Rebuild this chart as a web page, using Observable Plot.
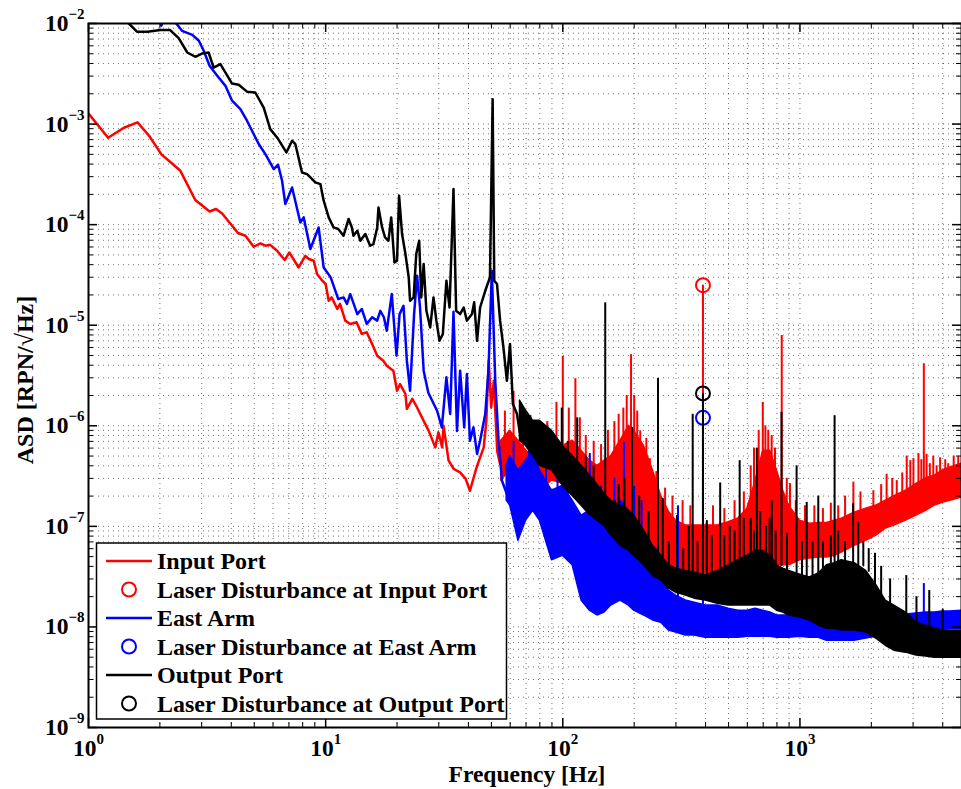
<!DOCTYPE html>
<html>
<head>
<meta charset="utf-8">
<script src="https://cdn.jsdelivr.net/npm/d3@7"></script>
<script src="https://cdn.jsdelivr.net/npm/@observablehq/plot@0.6"></script>
<style>
  body { margin: 0; background: #fff; }
  #chart { width: 961px; height: 789px; }
</style>
</head>
<body>
<div id="chart"></div>
<script>
// ---------- Tick values ----------
const freqTicks = [1, 10, 100, 1000];
const asdTicks = [1e-9, 1e-8, 1e-7, 1e-6, 1e-5, 1e-4, 1e-3, 1e-2];

// ---------- Legend ----------
const seriesNames = ["Input Port", "East Arm", "Output Port"];
const markerNames = ["Laser Disturbance at Input Port", "Laser Disturbance at East Arm", "Laser Disturbance at Output Port"];
const seriesColors = ["#ff0000", "#0000ff", "#000000"];

// ---------- Input Port (red) ----------
const inputLine = [[1.0,1.27e-3],[1.21,7.3e-4],[1.41,9.2e-4],[1.61,1.04e-3],[1.80,7.65e-4],[2.03,5.0e-4],[2.25,4.06e-4],[2.44,3.43e-4],[2.82,1.76e-4],[3.24,1.35e-4],[3.45,1.43e-4],[3.66,1.29e-4],[4.27,8.25e-5],[4.59,7.76e-5],[4.97,6.03e-5],[5.31,6.5e-5],[5.57,6.17e-5],[5.84,6.3e-5],[6.24,5.5e-5],[6.72,4.45e-5],[7.03,5.29e-5],[7.69,3.75e-5],[8.21,4.9e-5],[8.49,4.55e-5],[8.91,4.38e-5],[9.2,3.23e-5],[9.68,2.77e-5],[10.0,2.57e-5],[10.3,1.75e-5],[10.6,1.89e-5],[11.2,1.45e-5],[11.5,1.63e-5],[12.1,1.11e-5],[12.7,1.03e-5],[13.5,1.07e-5],[14.2,8.2e-6],[14.9,8.5e-6],[15.7,6.5e-6],[16.5,4.98e-6],[17.5,4.44e-6],[18.1,3.96e-6],[19.3,3.53e-6],[20.0,2.23e-6],[20.6,2.6e-6],[21.7,2.07e-6],[22.0,1.47e-6],[23.2,1.85e-6],[24.3,1.52e-6],[25.9,1.12e-6],[27.2,8.9e-7],[29.0,6.1e-7],[29.9,8.6e-7],[31.0,6.1e-7],[31.4,1.0e-6],[33.0,4.5e-7],[34.7,3.72e-7],[36.9,3.44e-7],[38.9,2.98e-7],[40.6,2.26e-7],[43.3,3.86e-7],[46.4,6.1e-7],[47.6,1.12e-6],[48.7,4.44e-6],[49.9,1.52e-6],[51.2,2.81e-6],[52.9,5.6e-7],[54.4,4.17e-7]];
const inputBandFreq = [55,60,65,70,75,80,90,100,110,120,130,140,150,160,175,190,200,220,240,260,280,300,330,360,400,450,500,550,600,650,700,750,800,850,900,1000,1100,1200,1300,1400,1500,1700,1900,2100,2300,2500,2800,3100,3400,3700,4000,4300,4800];
const inputBandHi = [7.1e-7,8.9e-7,7.1e-7,5.65e-7,5.0e-7,5.0e-7,5.65e-7,6.3e-7,7.1e-7,5.65e-7,4.5e-7,4.0e-7,4.5e-7,5.0e-7,7.1e-7,1.0e-6,8.9e-7,6.3e-7,3.6e-7,2.0e-7,1.4e-7,1.14e-7,1.02e-7,1.02e-7,1.02e-7,1.02e-7,1.1e-7,1.2e-7,1.5e-7,2.85e-7,5.65e-7,5.65e-7,3.6e-7,2.26e-7,1.6e-7,1.14e-7,1.06e-7,1.08e-7,1.08e-7,1.14e-7,1.19e-7,1.37e-7,1.5e-7,1.61e-7,1.8e-7,2.0e-7,2.26e-7,2.65e-7,3.0e-7,3.2e-7,3.6e-7,3.85e-7,4.2e-7];
const inputBandLo = [2.85e-7,3.6e-7,2.85e-7,2.85e-7,2.26e-7,2.26e-7,2.85e-7,2.65e-7,3.0e-7,2.26e-7,1.43e-7,1.28e-7,1.14e-7,1.14e-7,1.14e-7,1.28e-7,1.14e-7,7.2e-8,4.6e-8,4.1e-8,3.2e-8,3.0e-8,2.9e-8,2.9e-8,2.9e-8,2.75e-8,2.7e-8,2.7e-8,2.9e-8,3.2e-8,3.6e-8,4.1e-8,4.1e-8,4.1e-8,4.1e-8,4.6e-8,4.8e-8,4.9e-8,4.9e-8,5.1e-8,5.5e-8,6.4e-8,7.2e-8,8.1e-8,9.5e-8,1.02e-7,1.14e-7,1.28e-7,1.43e-7,1.61e-7,1.72e-7,1.8e-7,1.93e-7];
const inputSpikes = [[57,5e-7,1.4e-6],[62,6e-7,2.2e-6],[68,5e-7,1.3e-6],[73,4e-7,1.1e-6],[78,4e-7,9e-7],[86,4e-7,1.1e-6],[94,4e-7,1.71e-6],[100,5e-7,4.9e-6],[106,5e-7,1.5e-6],[113,5e-7,2.94e-6],[118,4e-7,1.2e-6],[125,4e-7,8e-7],[135,3e-7,7e-7],[145,3e-7,6.5e-7],[155,3e-7,9e-7],[165,4e-7,1.1e-6],[172,5e-7,1.3e-6],[180,5e-7,1.5e-6],[186,6e-7,2.0e-6],[194,6e-7,5.1e-6],[200,6e-7,2.0e-6],[206,5e-7,1.4e-6],[212,4e-7,8.9e-7],[225,3e-7,7.5e-7],[233,2e-7,4.7e-7],[248,2e-7,3.5e-7],[270,1.2e-7,2.4e-7],[290,1e-7,2.0e-7],[320,8e-8,1.8e-7],[345,8e-8,1.6e-7],[390,8e-8,2.5e-5],[430,8e-8,1.6e-7],[480,8e-8,1.5e-7],[530,9e-8,1.8e-7],[580,1e-7,2.2e-7],[620,1.5e-7,4.0e-7],[640,2e-7,6.0e-7],[670,3e-7,9e-7],[697,4e-7,1.71e-6],[715,4e-7,1.0e-6],[735,4e-7,9e-7],[760,3e-7,8e-7],[785,2e-7,6e-7],[838,1.5e-7,7.9e-6],[880,1.2e-7,3.0e-7],[908,1.2e-7,2.66e-7],[960,1e-7,1.8e-7],[1050,9e-8,1.6e-7],[1150,9e-8,1.6e-7],[1250,9e-8,1.5e-7],[1350,9e-8,1.7e-7],[1450,1e-7,1.6e-7],[1550,1e-7,2.0e-7],[1680,1.1e-7,2.75e-7],[1800,1.2e-7,2.2e-7],[2040,1.3e-7,2.26e-7],[2200,1.4e-7,2.6e-7],[2320,1.5e-7,3.3e-7],[2450,1.6e-7,3.0e-7],[2560,1.7e-7,2.85e-7],[2700,1.8e-7,3.4e-7],[2820,1.9e-7,5.0e-7],[2920,2e-7,4.5e-7],[3010,2.1e-7,4.7e-7],[3160,2.2e-7,5.3e-7],[3250,2.3e-7,4.6e-7],[3330,2.4e-7,4.14e-6],[3420,2.5e-7,5.2e-7],[3530,2.6e-7,4.2e-7],[3650,2.7e-7,5.0e-7],[3770,2.8e-7,4.0e-7],[3900,2.9e-7,4.8e-7],[4100,3e-7,4.6e-7],[4220,3.1e-7,4.2e-7],[4450,3.2e-7,5.0e-7],[4650,3.4e-7,4.9e-7]];
const inputMarker = [390, 2.5e-5];

// ---------- East Arm (blue) ----------
const eastLine = [[1.0,4e-2],[1.97,1.34e-2],[2.03,9.5e-3],[2.11,1.34e-2],[2.26,1.19e-2],[2.33,1.02e-2],[2.48,8.46e-3],[2.74,7.72e-3],[2.92,6.73e-3],[3.06,5.35e-3],[3.24,3.8e-3],[3.49,3.02e-3],[3.78,2.4e-3],[4.03,1.71e-3],[4.37,1.41e-3],[4.66,1.08e-3],[4.97,7.96e-4],[5.22,6.33e-4],[5.57,5.03e-4],[6.04,3.57e-4],[6.30,3.94e-4],[6.55,2.73e-4],[6.76,1.6e-4],[7.22,2.34e-4],[7.82,1.05e-4],[8.08,1.18e-4],[8.62,5.72e-5],[9.34,9.38e-5],[9.81,3.75e-5],[10.5,2.99e-5],[11.3,1.82e-5],[11.9,1.89e-5],[12.3,1.63e-5],[12.7,2.04e-5],[13.6,1.29e-5],[14.2,1.45e-5],[14.9,1.03e-5],[15.7,1.2e-5],[16.5,1.11e-5],[17.0,1.39e-5],[17.6,1.2e-5],[18.1,8.82e-6],[19.0,2.04e-5],[19.9,4.98e-6],[20.5,1.29e-5],[21.3,1.56e-5],[22.0,4.44e-6],[22.7,2.23e-6],[23.6,1.29e-5],[24.3,3.1e-5],[25.0,1.5e-5],[25.9,3.53e-6],[27.1,2.13e-6],[29.5,1.41e-6],[30.9,9.64e-7],[32.3,3.03e-6],[33.5,1.31e-6],[34.6,1.36e-5],[35.8,8.9e-7],[36.9,3.53e-6],[38.4,9.64e-7],[39.4,3.27e-6],[40.6,7.1e-7],[42.0,9.64e-7],[43.5,5.25e-7],[44.8,7.1e-7],[47.1,1.31e-6],[48.6,3.53e-6],[50.2,3.48e-5],[51.9,2.8e-6],[53.6,7.1e-7],[55.4,2.84e-7],[58.1,2.1e-7]];
const eastBandFreq = [58,60,65,70,75,80,90,100,110,120,130,140,150,160,175,190,200,220,240,260,280,300,330,360,400,450,500,550,600,650,700,750,800,850,900,1000,1100,1200,1300,1400,1500,1700,1900,2100,2300,2500,2800,3100,3400,3700,4000,4300,4800];
const eastBandHi = [4.0e-7,5.0e-7,3.6e-7,4.5e-7,5.65e-7,3.6e-7,2.26e-7,2.54e-7,1.8e-7,1.28e-7,1.43e-7,1.14e-7,1.14e-7,1.28e-7,1.8e-7,1.43e-7,1.14e-7,7.2e-8,3.6e-8,2.9e-8,2.3e-8,2.05e-8,1.83e-8,1.74e-8,1.63e-8,1.63e-8,1.52e-8,1.45e-8,1.45e-8,1.52e-8,1.45e-8,1.39e-8,1.3e-8,1.3e-8,1.3e-8,1.36e-8,1.3e-8,1.63e-8,1.3e-8,1.21e-8,1.21e-8,1.21e-8,1.21e-8,1.21e-8,1.27e-8,1.3e-8,1.33e-8,1.36e-8,1.39e-8,1.39e-8,1.42e-8,1.42e-8,1.45e-8];
const eastBandLo = [1.8e-7,1.61e-7,7.2e-8,1.14e-7,1.43e-7,1.14e-7,4.6e-8,5.1e-8,4.1e-8,1.83e-8,1.45e-8,1.3e-8,1.39e-8,1.63e-8,1.83e-8,1.63e-8,1.45e-8,1.3e-8,1.16e-8,1.1e-8,9.2e-9,8.8e-9,8.2e-9,8.2e-9,7.8e-9,7.8e-9,7.8e-9,7.8e-9,8.0e-9,8.0e-9,8.0e-9,8.0e-9,7.8e-9,7.8e-9,7.8e-9,8.0e-9,7.8e-9,7.8e-9,7.3e-9,7.3e-9,7.3e-9,7.3e-9,7.65e-9,8.0e-9,8.6e-9,8.8e-9,9.0e-9,9.2e-9,9.2e-9,9.4e-9,9.4e-9,9.6e-9,9.6e-9];
const eastSpikes = [[62,2e-7,7e-7],[72,2e-7,7e-7],[85,1e-7,5e-7],[95,1e-7,4e-7],[105,8e-8,3.5e-7],[130,5e-8,5.3e-7],[145,5e-8,2.5e-7],[165,5e-8,3e-7],[181,6e-8,6.8e-7],[200,5e-8,2.5e-7],[215,3e-8,1.8e-7],[250,2e-8,6e-8],[306,1.5e-8,1.6e-7],[390,1.2e-8,1.2e-6],[1200,1e-8,2e-8],[3330,1.2e-8,2.7e-8]];
const eastMarker = [390, 1.2e-6];

// ---------- Output Port (black) ----------
const outputLine = [[1.0,2.0e-2],[1.36,1.4e-2],[1.48,1.0e-2],[1.60,8.3e-3],[1.77,8.3e-3],[2.01,8.6e-3],[2.21,8.6e-3],[2.40,7.16e-3],[2.61,5.15e-3],[2.82,4.67e-3],[3.01,5.03e-3],[3.21,5.15e-3],[3.37,3.65e-3],[3.60,3.95e-3],[4.03,2.53e-3],[4.30,2.46e-3],[4.66,2.1e-3],[5.05,2.06e-3],[5.48,1.46e-3],[5.84,8.9e-4],[6.24,7.36e-4],[6.83,5.22e-4],[7.22,6.83e-4],[7.45,6.33e-4],[7.95,3.3e-4],[8.35,3.18e-4],[9.05,2.63e-4],[9.5,2.53e-4],[9.81,1.73e-4],[10.3,1.18e-4],[10.8,9.38e-5],[11.3,9.04e-5],[11.9,7.76e-5],[12.5,1.14e-4],[12.9,9.38e-5],[13.1,7.76e-5],[13.6,8.7e-5],[14.0,6.92e-5],[14.7,8.06e-5],[15.4,6.17e-5],[15.9,6.4e-5],[16.5,9.38e-5],[16.7,1.48e-4],[17.3,9.38e-5],[17.8,7.46e-5],[18.4,6.92e-5],[18.9,1.18e-4],[19.5,4.21e-5],[20.0,4.38e-5],[20.4,1.94e-4],[21.0,8.06e-5],[21.7,5.1e-5],[22.4,2.99e-5],[22.7,1.75e-5],[23.5,1.89e-5],[24.1,5.1e-5],[24.8,6.92e-5],[25.3,1.89e-5],[25.9,4.06e-5],[26.6,1.39e-5],[27.6,9.5e-6],[28.5,1.89e-5],[29.3,1.11e-5],[30.2,7.0e-6],[31.2,8.18e-6],[32.3,2.77e-5],[33.3,1.5e-5],[34.6,2.26e-4],[35.5,1.39e-5],[36.9,1.29e-5],[38.2,1.5e-5],[39.4,1.11e-5],[41.4,1.29e-5],[42.3,1.69e-5],[43.5,7.0e-6],[44.8,1.5e-5],[47.1,2.2e-5],[49.3,2.99e-5],[50.6,1.77e-3],[51.4,2.77e-5],[52.8,2.57e-5],[54.4,1.11e-5],[56.2,6.0e-6],[58.1,2.8e-6],[59.9,6.5e-6],[61.6,1.65e-6],[64.1,1.31e-6],[66.0,8.29e-7]];
const outputBandFreq = [66,70,75,80,90,100,110,120,130,140,150,160,175,190,200,220,240,260,280,300,330,360,400,450,500,550,600,650,700,750,800,850,900,1000,1100,1200,1300,1400,1500,1700,1900,2100,2300,2500,2800,3100,3400,3700,4000,4300,4800];
const outputBandHi = [1.78e-6,1.41e-6,1.12e-6,1.12e-6,8.9e-7,6.3e-7,5.0e-7,4.0e-7,3.2e-7,2.6e-7,2.1e-7,1.8e-7,1.61e-7,1.43e-7,1.28e-7,9.1e-8,6.4e-8,5.1e-8,4.1e-8,3.8e-8,3.6e-8,3.45e-8,3.24e-8,3.6e-8,4.1e-8,4.6e-8,5.1e-8,5.7e-8,5.7e-8,5.1e-8,4.1e-8,3.8e-8,3.6e-8,3.3e-8,3.1e-8,3.4e-8,4.1e-8,4.3e-8,4.6e-8,4.3e-8,3.6e-8,2.6e-8,1.83e-8,1.63e-8,1.39e-8,1.1e-8,1.03e-8,9.6e-9,9.2e-9,9.2e-9,9.2e-9];
const outputBandLo = [7.1e-7,6.3e-7,5.0e-7,4.0e-7,3.6e-7,2.54e-7,2.0e-7,1.6e-7,1.3e-7,1.14e-7,1.0e-7,8.1e-8,6.4e-8,5.7e-8,5.1e-8,4.1e-8,3.2e-8,2.9e-8,2.4e-8,2.2e-8,2.05e-8,1.91e-8,1.83e-8,1.7e-8,1.63e-8,1.63e-8,1.63e-8,1.63e-8,1.63e-8,1.63e-8,1.45e-8,1.39e-8,1.3e-8,1.24e-8,1.16e-8,1.03e-8,9.6e-9,9.6e-9,9.2e-9,9.2e-9,8.8e-9,7.65e-9,6.5e-9,5.8e-9,5.55e-9,5.2e-9,5.07e-9,4.95e-9,4.95e-9,4.95e-9,4.95e-9];
const outputSpikes = [[73,6e-7,1.26e-6],[78,5e-7,9e-7],[83,4e-7,7.1e-7],[88,4e-7,8e-7],[94,3e-7,6e-7],[99,3e-7,1.5e-6],[105,3e-7,7e-7],[115,2.5e-7,1.2e-6],[125,2e-7,5e-7],[135,1.5e-7,4e-7],[151,1.2e-7,1.67e-5],[166,1e-7,1.8e-7],[172,1e-7,2.6e-7],[182,9e-8,3e-7],[196,8e-8,9.6e-7],[210,7e-8,2e-7],[230,5e-8,1.4e-7],[252,4e-8,2.96e-6],[264,3.5e-8,1.9e-7],[280,3e-8,7e-8],[303,3e-8,1.28e-7],[322,3e-8,6e-8],[340,3e-8,1.0e-7],[353,3e-8,1.3e-6],[370,3e-8,7e-8],[390,3e-8,2.1e-6],[405,3e-8,1.14e-7],[425,3e-8,8e-8],[461,3e-8,2.7e-7],[480,3e-8,8e-8],[506,3.5e-8,1.0e-7],[530,4e-8,9e-8],[557,4e-8,4.5e-7],[580,4e-8,1.2e-7],[620,4e-8,1.2e-7],[640,4e-8,9e-8],[658,4e-8,6.0e-7],[680,4e-8,1.4e-7],[720,4e-8,1.0e-7],[745,4e-8,1.2e-7],[761,4e-8,1.8e-7],[790,4e-8,9e-8],[836,4e-8,1.36e-6],[882,3.5e-8,8.5e-8],[968,3e-8,4.0e-7],[1020,3e-8,7e-8],[1068,3e-8,1.73e-7],[1130,3e-8,7e-8],[1195,3e-8,2.0e-7],[1250,3.5e-8,7e-8],[1350,4e-8,8e-8],[1400,4e-8,1.26e-6],[1450,4e-8,9e-8],[1550,4e-8,7e-8],[1676,4e-8,1.68e-7],[1762,4e-8,1.1e-7],[1850,4e-8,7e-8],[1950,3.5e-8,6e-8],[2073,2.5e-8,5.4e-8],[2200,2e-8,4e-8],[2400,1.5e-8,3e-8],[2808,1.2e-8,3.24e-8],[3100,1e-8,2e-8],[3510,9e-9,2.3e-8],[4000,8e-9,1.5e-8]];
const outputMarker = [390, 2.1e-6];

// ---------- Layout ----------
const W = 961, H = 789;
const M = {left: 88, right: 0, top: 23, bottom: 62};
const frameW = W - M.left - M.right;
const frameH = H - M.top - M.bottom;
const xMax = 4800;

const freqMinor = [];
for (const d of freqTicks) for (let m = 2; m <= 9; m++) if (d * m <= xMax) freqMinor.push(d * m);
const asdMinor = [];
for (const d of asdTicks.slice(0, -1)) for (let m = 2; m <= 9; m++) asdMinor.push(d * m);

const bandRows = (F, lo, hi) => F.map((f, i) => ({f, lo: lo[i], hi: hi[i]}));
const series = [
  {line: inputLine, band: bandRows(inputBandFreq, inputBandLo, inputBandHi), spikes: inputSpikes, marker: inputMarker},
  {line: eastLine, band: bandRows(eastBandFreq, eastBandLo, eastBandHi), spikes: eastSpikes, marker: eastMarker},
  {line: outputLine, band: bandRows(outputBandFreq, outputBandLo, outputBandHi), spikes: outputSpikes, marker: outputMarker}
];

const gridStyle = {stroke: "#000", strokeOpacity: 0.55, strokeWidth: 1, strokeDasharray: "1,4"};
const marks = [
  Plot.ruleX([...freqTicks, ...freqMinor], gridStyle),
  Plot.ruleY([...asdTicks, ...asdMinor], gridStyle)
];
series.forEach((s, i) => {
  const c = seriesColors[i];
  marks.push(
    Plot.areaY(s.band, {x: "f", y1: "lo", y2: "hi", fill: c, stroke: c, strokeWidth: 1.5, strokeLinejoin: "round", clip: true}),
    Plot.line(s.line, {x: d => d[0], y: d => d[1], stroke: c, strokeWidth: 2.5, strokeLinejoin: "round", clip: true}),
    Plot.ruleX(s.spikes, {x: d => d[0], y1: d => d[1], y2: d => d[2], stroke: c, strokeWidth: 2, clip: true}),
    Plot.dot([s.marker], {x: d => d[0], y: d => d[1], r: 7, stroke: c, strokeWidth: 2, fill: "none"})
  );
});
// inward ticks (box on)
marks.push(
  Plot.ruleX(freqTicks, {insetTop: frameH - 9, stroke: "#000", strokeWidth: 1.5}),
  Plot.ruleX(freqTicks, {insetBottom: frameH - 9, stroke: "#000", strokeWidth: 1.5}),
  Plot.ruleX(freqMinor, {insetTop: frameH - 5, stroke: "#000"}),
  Plot.ruleX(freqMinor, {insetBottom: frameH - 5, stroke: "#000"}),
  Plot.ruleY(asdTicks, {insetRight: frameW - 9, stroke: "#000", strokeWidth: 1.5}),
  Plot.ruleY(asdTicks, {insetLeft: frameW - 9, stroke: "#000", strokeWidth: 1.5}),
  Plot.ruleY(asdMinor, {insetRight: frameW - 5, stroke: "#000"}),
  Plot.ruleY(asdMinor, {insetLeft: frameW - 5, stroke: "#000"}),
  Plot.frame({stroke: "#000", strokeWidth: 2})
);

const chart = Plot.plot({
  width: W, height: H,
  marginLeft: M.left, marginRight: M.right, marginTop: M.top, marginBottom: M.bottom,
  style: "font-family: 'Liberation Serif', 'Times New Roman', serif; font-size: 23.5px; font-weight: bold; background: #fff; color: #000; overflow: hidden;",
  x: {type: "log", domain: [1, xMax], ticks: freqTicks, tickSize: 0, tickPadding: 12,
      tickFormat: d => "10^" + Math.round(Math.log10(d)), label: null},
  y: {type: "log", domain: [1e-9, 1e-2], ticks: asdTicks, tickSize: 0, tickPadding: 4,
      tickFormat: d => "10^\u2212" + Math.round(-Math.log10(d)), label: null},
  marks
});
document.getElementById("chart").appendChild(chart);

const svg = d3.select(chart);
// superscripts on tick labels
svg.selectAll("text").each(function () {
  const s = this.textContent;
  if (!s.includes("^")) return;
  const [base, exp] = s.split("^");
  const t = d3.select(this);
  t.selectAll("*").remove();
  t.text(null);
  t.append("tspan").text(base);
  t.append("tspan").attr("dy", -12).attr("font-size", 15).text(exp);
});

// axis titles
svg.append("text").attr("x", 527).attr("y", 782).attr("text-anchor", "middle")
  .attr("font-size", 23.5).attr("font-weight", "bold").attr("fill", "#000").text("Frequency [Hz]");
svg.append("text").attr("transform", "translate(33,380) rotate(-90)").attr("text-anchor", "middle")
  .attr("font-size", 24).attr("font-weight", "bold").attr("fill", "#000").text("ASD [RPN/\u221AHz]");

// legend
const lg = svg.append("g").attr("text-anchor", "start");
lg.append("rect").attr("x", 96.5).attr("y", 543).attr("width", 410).attr("height", 176)
  .attr("fill", "#fff").attr("stroke", "#000").attr("stroke-width", 1.5);
const legendRows = [];
seriesNames.forEach((n, i) => {
  legendRows.push({label: n, kind: "line", color: seriesColors[i]});
  legendRows.push({label: markerNames[i], kind: "circle", color: seriesColors[i]});
});
legendRows.forEach((r, i) => {
  const cy = 561 + i * 28.5;
  if (r.kind === "line") {
    lg.append("line").attr("x1", 106).attr("x2", 152).attr("y1", cy).attr("y2", cy)
      .attr("stroke", r.color).attr("stroke-width", 2.5);
  } else {
    lg.append("circle").attr("cx", 129).attr("cy", cy).attr("r", 7)
      .attr("fill", "none").attr("stroke", r.color).attr("stroke-width", 2);
  }
  lg.append("text").attr("x", 157).attr("y", cy + 8).attr("font-size", 24)
    .attr("text-anchor", "start").attr("font-weight", "bold").attr("fill", "#000").text(r.label);
});
</script>
</body>
</html>
